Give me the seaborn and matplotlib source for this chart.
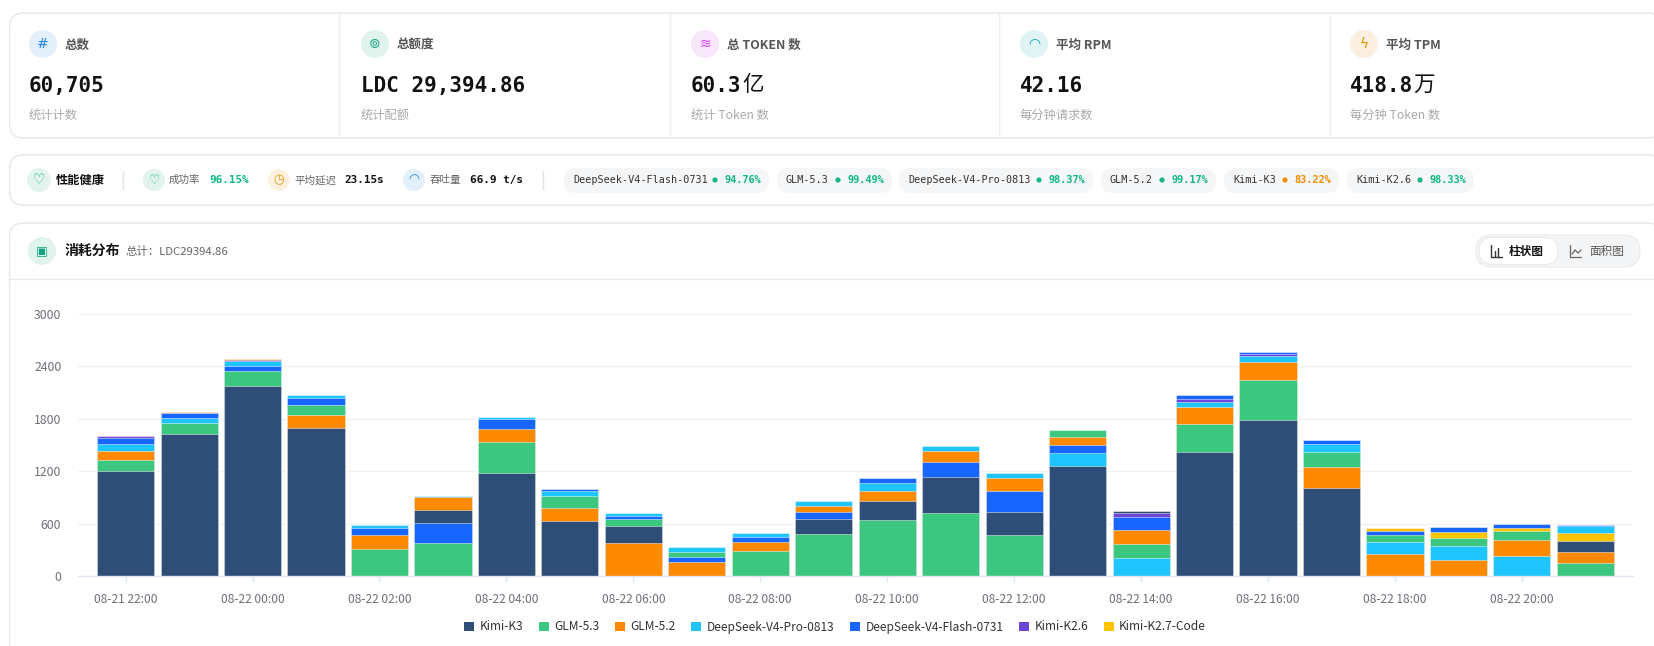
import numpy as np
import pandas as pd
import matplotlib
matplotlib.use("Agg")
import matplotlib.pyplot as plt
import seaborn as sns
from matplotlib.patches import FancyBboxPatch, Circle, Patch
from matplotlib.lines import Line2D

# ---------------- data ----------------
times = ["08-21 22:00", "08-21 23:00", "08-22 00:00", "08-22 01:00", "08-22 02:00", "08-22 03:00",
         "08-22 04:00", "08-22 05:00", "08-22 06:00", "08-22 07:00", "08-22 08:00", "08-22 09:00",
         "08-22 10:00", "08-22 11:00", "08-22 12:00", "08-22 13:00", "08-22 14:00", "08-22 15:00",
         "08-22 16:00", "08-22 17:00", "08-22 18:00", "08-22 19:00", "08-22 20:00", "08-22 21:00"]
models = ["Kimi-K3", "GLM-5.3", "GLM-5.2", "DeepSeek-V4-Pro-0813", "DeepSeek-V4-Flash-0731",
          "Kimi-K2.6", "Kimi-K2.7-Code"]
kimi_k3 = [1202, 1630, 2175, 1691, 0, 153, 1183, 630, 199, 0, 0, 172, 221, 419, 260, 1263, 19, 1416, 1790, 1008, 0, 0, 0, 126]
glm_53 = [130, 122, 172, 111, 313, 374, 355, 133, 76, 58, 290, 477, 641, 718, 469, 80, 163, 321, 451, 180, 83, 99, 111, 145]
glm_52 = [95, 5, 11, 156, 156, 149, 141, 149, 374, 157, 96, 69, 108, 126, 148, 88, 162, 194, 213, 236, 252, 179, 183, 128]
ds_pro = [84, 57, 56, 34, 30, 15, 19, 58, 30, 53, 42, 57, 91, 54, 61, 142, 202, 61, 69, 84, 134, 161, 225, 81]
ds_flash = [69, 54, 59, 84, 81, 229, 119, 22, 42, 64, 64, 87, 57, 172, 241, 99, 152, 38, 22, 45, 50, 57, 35, 11]
kimi_k26 = [23, 6, 15, 0, 0, 0, 0, 0, 0, 0, 0, 0, 0, 0, 0, 0, 46, 39, 24, 0, 0, 0, 0, 0]
kimi_k27 = [0, 0, 0, 0, 0, 0, 0, 0, 0, 0, 0, 0, 0, 0, 0, 0, 0, 0, 0, 0, 31, 69, 36, 95]
colors = ["#2f4e77", "#3cc781", "#ff8a00", "#1ec5ff", "#1766ff", "#7046d8", "#ffc300"]
y_ticks = [0, 600, 1200, 1800, 2400, 3000]

card_titles = ["总数", "总额度", "总 TOKEN 数", "平均 RPM", "平均 TPM"]
card_values = ["60,705", "LDC 29,394.86", "60.3", "42.16", "418.8"]
card_units = ["", "", "亿", "", "万"]
card_subs = ["统计计数", "统计配额", "统计 Token 数", "每分钟请求数", "每分钟 Token 数"]
health_names = ["DeepSeek-V4-Flash-0731", "GLM-5.3", "DeepSeek-V4-Pro-0813", "GLM-5.2", "Kimi-K3", "Kimi-K2.6"]
health_rates = ["94.76%", "99.49%", "98.37%", "99.17%", "83.22%", "98.33%"]

# ---------------- style ----------------
sns.set_theme(style="white")
CJK = ['Noto Sans CJK SC', 'DejaVu Sans']
MONO = ['DejaVu Sans Mono', 'Noto Sans CJK SC']
plt.rcParams['font.family'] = CJK

W, H = 1654, 646
fig = plt.figure(figsize=(W / 100, H / 100), dpi=100)
fig.patch.set_facecolor("white")
bg = fig.add_axes([0, 0, 1, 1])
bg.set_xlim(0, W)
bg.set_ylim(H, 0)
bg.axis("off")

BORDER = "#e6e8eb"
GREEN = "#12b886"
ORANGE = "#f08c00"


def panel(x, y, w, h, r=14, fc="white", ec=BORDER, lw=1.0, z=1):
    p = FancyBboxPatch((x, y), w, h, boxstyle=f"round,pad=0,rounding_size={r}",
                       fc=fc, ec=ec, lw=lw, zorder=z)
    bg.add_patch(p)


def icon(cx, cy, r, fc, glyph, gc, size=9, fam=None):
    bg.add_patch(Circle((cx, cy), r, fc=fc, ec="none", zorder=3))
    bg.text(cx, cy, glyph, ha="center", va="center", color=gc, fontsize=size,
            family=fam or ['DejaVu Sans'], zorder=4)


# ---------------- top cards ----------------
panel(9.5, 13, 1652, 125)
for xd in [339, 670, 999, 1330]:
    bg.add_line(Line2D([xd, xd], [14, 137], color="#eeeff1", lw=1, zorder=2))

card_x = [29, 361, 691, 1020, 1350]
icon_bg = ["#e3effb", "#e0f3ec", "#f8e6fb", "#e0f4f5", "#fbf0df"]
icon_fg = ["#1e88e5", "#12a37f", "#d946ef", "#0ea5b0", "#e69500"]
glyphs = ["#", "⊚", "≋", "◠", "ϟ"]
char_w = 0.602 * 15 * 100 / 72
for i in range(5):
    x0 = card_x[i]
    icon(x0 + 14, 44, 14, icon_bg[i], glyphs[i], icon_fg[i], size=10)
    bg.text(x0 + 36, 45, card_titles[i], ha="left", va="center", fontsize=9,
            color="#555555", fontweight="bold", family=CJK)
    bg.text(x0, 86, card_values[i], ha="left", va="center", fontsize=15,
            color="#111111", fontweight="bold", family=MONO)
    if card_units[i]:
        bg.text(x0 + len(card_values[i]) * char_w + 1, 85, card_units[i], ha="left",
                va="center", fontsize=15.5, color="#111111", family=CJK)
    bg.text(x0, 115, card_subs[i], ha="left", va="center", fontsize=8.8,
            color="#aaaaaa", family=CJK)

# ---------------- health bar ----------------
panel(9.5, 155, 1652, 50)
cy = 180
icon(39, cy, 12, "#e2f4ec", "♡", GREEN, size=10)
bg.text(56, cy, "性能健康", ha="left", va="center", fontsize=8.8, fontweight="bold",
        color="#111111", family=CJK)
bg.add_line(Line2D([123, 123], [171, 189], color="#e3e3e3", lw=1))
icon(154, cy, 11, "#e2f4ec", "♡", GREEN, size=9)
bg.text(169, cy, "成功率", ha="left", va="center", fontsize=7.6, color="#666666", family=CJK)
bg.text(209, cy, "96.15%", ha="left", va="center", fontsize=7.9, color=GREEN,
        fontweight="bold", family=MONO)
icon(279, cy, 11, "#fcf1df", "◷", "#e69500", size=9)
bg.text(294, cy, "平均延迟", ha="left", va="center", fontsize=7.6, color="#666666", family=CJK)
bg.text(344, cy, "23.15s", ha="left", va="center", fontsize=7.9, color="#111111",
        fontweight="bold", family=MONO)
icon(414, cy, 11, "#e3effb", "◠", "#1e88e5", size=9)
bg.text(430, cy, "吞吐量", ha="left", va="center", fontsize=7.6, color="#666666", family=CJK)
bg.text(470, cy, "66.9 t/s", ha="left", va="center", fontsize=7.9, color="#111111",
        fontweight="bold", family=MONO)
bg.add_line(Line2D([543, 543], [171, 189], color="#e3e3e3", lw=1))

pill_x = [564, 777, 899, 1101, 1224, 1347]
pill_w = [205, 115, 194, 115, 115, 127]
for i in range(6):
    px0 = pill_x[i]
    panel(px0, 168, pill_w[i], 25, r=12, fc="#f5f6f7", ec="none", lw=0, z=2)
    bg.text(px0 + 9, cy, health_names[i], ha="left", va="center", fontsize=7.3,
            color="#333333", family=MONO, zorder=3)
    rate_col = ORANGE if health_rates[i].startswith("83") else GREEN
    rx = px0 + pill_w[i] - 8
    bg.text(rx, cy, health_rates[i], ha="right", va="center", fontsize=7.4, color=rate_col,
            fontweight="bold", family=MONO, zorder=3)
    bg.add_patch(Circle((rx - 46, cy), 2.6, fc=rate_col, ec="none", zorder=3))

# ---------------- chart panel ----------------
panel(9.5, 223, 1652, 500)
icon(42, 251, 14, "#e0f3ec", "▣", "#12a37f", size=9)
bg.text(65, 251, "消耗分布", ha="left", va="center", fontsize=10, fontweight="bold",
        color="#111111", family=CJK)
bg.text(126, 251, "总计：LDC29394.86", ha="left", va="center", fontsize=8.2,
        color="#666666", family=CJK)
bg.add_line(Line2D([10, 1654], [279, 279], color="#ebebeb", lw=1))

# toggle
panel(1476, 235, 164, 32, r=16, fc="#f4f5f6", ec="#ebebeb", lw=0.8, z=2)
panel(1479, 237.5, 79, 27, r=13.5, fc="white", ec="#e6e6e6", lw=0.6, z=3)
bg.add_line(Line2D([1491, 1491, 1502], [245, 257, 257], color="#333333", lw=1.0, zorder=4))
bg.add_line(Line2D([1495, 1495], [251, 257], color="#333333", lw=1.0, zorder=4))
bg.add_line(Line2D([1498, 1498], [248, 257], color="#333333", lw=1.0, zorder=4))
bg.text(1509, 251, "柱状图", ha="left", va="center", fontsize=8.4, fontweight="bold",
        color="#111111", family=CJK, zorder=4)
bg.add_line(Line2D([1570, 1570, 1581], [245, 257, 257], color="#666666", lw=0.9, zorder=4))
bg.add_line(Line2D([1572, 1575, 1578, 1581], [254, 250, 253, 250], color="#666666", lw=0.9, zorder=4))
bg.text(1589, 251, "面积图", ha="left", va="center", fontsize=8.4,
        color="#555555", family=CJK, zorder=4)

# ---------------- stacked bars ----------------
vals = np.array([kimi_k3, glm_53, glm_52, ds_pro, ds_flash, kimi_k26, kimi_k27], dtype=float)
ax = fig.add_axes([78 / W, 1 - 576 / H, 1555 / W, 262 / H])
ax.set_facecolor("none")

# per bar: segments ordered by value (largest at bottom); draw cumulative layers top-down
layers = []
for j, t in enumerate(times):
    order = sorted(range(len(models)), key=lambda k: (-vals[k, j], k))
    cum = 0.0
    for rank, k in enumerate(order):
        if vals[k, j] <= 0:
            continue
        cum += vals[k, j]
        layers.append({"time": t, "rank": rank, "top": cum, "model": models[k]})
df = pd.DataFrame(layers)
pal = dict(zip(models, colors))
for rank in sorted(df["rank"].unique(), reverse=True):
    sub = df[df["rank"] == rank]
    sns.barplot(data=sub, x="time", y="top", hue="model", order=times, hue_order=models,
                palette=pal, dodge=False, width=0.9, errorbar=None, legend=False,
                edgecolor=(1, 1, 1, 0.55), linewidth=0.6, saturation=1, ax=ax)

ax.set_xlim(-0.75, 23.75)
ax.set_ylim(0, 3000)
ax.set_yticks(y_ticks)
ax.set_yticklabels([str(v) for v in y_ticks])
ax.set_xticks(range(0, 24, 2))
ax.set_xticklabels(times[::2])
ax.set_xlabel("")
ax.set_ylabel("")
ax.grid(axis="y", color="#f0f1f3", lw=1)
ax.set_axisbelow(True)
for s in ["top", "right", "left"]:
    ax.spines[s].set_visible(False)
ax.spines["bottom"].set_color("#e0e6f1")
ax.spines["bottom"].set_linewidth(1)
ax.tick_params(axis="y", length=0, pad=12, labelsize=8.8, labelcolor="#6e7079")
ax.tick_params(axis="x", length=4, width=1, color="#e0e6f1", pad=8, labelsize=8.6,
               labelcolor="#6e7079", bottom=True)

handles = [Patch(facecolor=c, edgecolor="none", label=m) for m, c in zip(models, colors)]
fig.legend(handles=handles, loc="center", bbox_to_anchor=(835 / W, 1 - 627 / H), ncol=7,
           frameon=False, fontsize=8.6, handlelength=0.85, handleheight=0.85,
           handletextpad=0.45, columnspacing=1.3, labelcolor="#333333")

fig.savefig("out.png", dpi=100, facecolor="white")
